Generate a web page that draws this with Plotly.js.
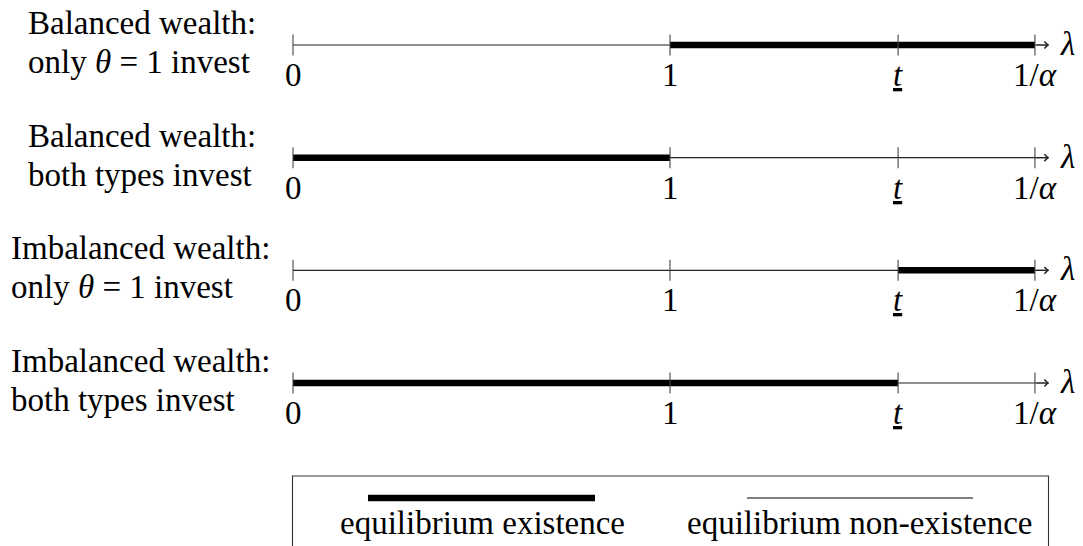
<!DOCTYPE html>
<html>
<head>
<meta charset="utf-8">
<script src="https://cdn.plot.ly/plotly-3.0.1.min.js"></script>
</head>
<body style="margin:0;background:#fff">
<div id="chart"></div>
<script>
// ---- data ----
const rowLine1 = ['Balanced wealth:', 'Balanced wealth:', 'Imbalanced wealth:', 'Imbalanced wealth:'];
const rowLine2 = ['only <i>θ</i> = 1 invest', 'both types invest', 'only <i>θ</i> = 1 invest', 'both types invest'];
const tickValues = [0, 1, 1.605, 1.968];
const tickLabels = ['0', '1', '<i><u>t</u></i>', '1/<i>α</i>'];
const axisEnd = 2.005;
const existStart = [1, 0, 1.605, 0];
const existEnd = [1.968, 1, 1.968, 1.605];
const legendLabels = ['equilibrium existence', 'equilibrium non-existence'];

// ---- styling ----
const FONT = 'Liberation Serif';
const FS = 33;
const W = 1083, H = 546;
const px = v => v / W;
const py = v => 1 - v / H;
const labelLeft = [26, 26, 9, 9];

const traces = [];
const annotations = [];
const shapes = [];

rowLine1.forEach((_, r) => {
  traces.push({
    x: [tickValues[0], axisEnd], y: [r, r], mode: 'lines',
    line: {color: '#222', width: 1.1}, hoverinfo: 'skip', showlegend: false
  });
  traces.push({
    x: [existStart[r], existEnd[r]], y: [r, r], mode: 'lines',
    line: {color: '#000', width: 6.5}, hoverinfo: 'skip', showlegend: false
  });
  traces.push({
    x: tickValues, y: tickValues.map(() => r), mode: 'markers',
    marker: {symbol: 'line-ns', size: 15, line: {color: '#444', width: 1.1}},
    hoverinfo: 'skip', showlegend: false
  });
  tickValues.forEach((v, i) => {
    annotations.push({
      x: v, y: r, xref: 'x', yref: 'y', text: tickLabels[i], showarrow: false,
      xanchor: 'center', yanchor: 'middle', yshift: -30,
      font: {family: FONT, size: FS, color: '#000'}
    });
  });
  annotations.push({
    x: axisEnd, y: r, ax: tickValues[3], ay: r, xref: 'x', yref: 'y', axref: 'x', ayref: 'y',
    text: '', showarrow: true, arrowhead: 4, arrowsize: 1.2, arrowwidth: 1.1, arrowcolor: '#222', standoff: 0
  });
  annotations.push({
    x: axisEnd, y: r, xref: 'x', yref: 'y', text: '<i>λ</i>', showarrow: false,
    xanchor: 'left', yanchor: 'middle', xshift: 9, yshift: 1,
    font: {family: FONT, size: FS, color: '#000'}
  });
  annotations.push({
    x: px(labelLeft[r]), xref: 'paper', y: r, yref: 'y', text: rowLine1[r], showarrow: false,
    xanchor: 'left', yanchor: 'middle', yshift: 22, font: {family: FONT, size: FS, color: '#000'}
  });
  annotations.push({
    x: px(labelLeft[r]), xref: 'paper', y: r, yref: 'y', text: rowLine2[r], showarrow: false,
    xanchor: 'left', yanchor: 'middle', yshift: -17, font: {family: FONT, size: FS, color: '#000'}
  });
});

shapes.push({type: 'rect', xref: 'paper', yref: 'paper', x0: px(292.5), x1: px(1048.5), y0: py(476), y1: -0.2,
  line: {color: '#333', width: 1.1}, fillcolor: 'rgba(0,0,0,0)'});
shapes.push({type: 'line', xref: 'paper', yref: 'paper', x0: px(368), x1: px(595), y0: py(498), y1: py(498),
  line: {color: '#000', width: 6.5}});
shapes.push({type: 'line', xref: 'paper', yref: 'paper', x0: px(747), x1: px(973), y0: py(498), y1: py(498),
  line: {color: '#000', width: 1.1}});
[482, 860].forEach((cx, i) => {
  annotations.push({
    x: px(cx), y: py(523), xref: 'paper', yref: 'paper', text: legendLabels[i], showarrow: false,
    xanchor: 'center', yanchor: 'middle', font: {family: FONT, size: FS, color: '#000'}
  });
});

const layout = {
  width: W, height: H,
  margin: {l: 0, r: 0, t: 0, b: 0},
  paper_bgcolor: '#fff', plot_bgcolor: '#fff',
  xaxis: {range: [-293 / 377, (W - 293) / 377], visible: false, fixedrange: true},
  yaxis: {range: [(H - 45) / 112.67, -45 / 112.67], visible: false, fixedrange: true},
  showlegend: false,
  annotations: annotations,
  shapes: shapes
};

Plotly.newPlot('chart', traces, layout, {displayModeBar: false, staticPlot: true});
</script>
</body>
</html>
